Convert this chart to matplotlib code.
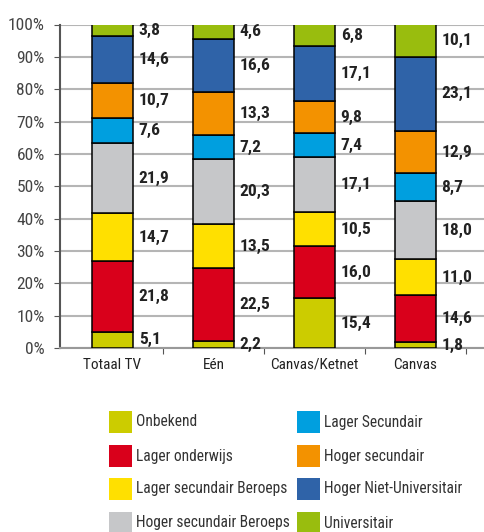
import matplotlib
matplotlib.use("Agg")
import matplotlib.pyplot as plt
from matplotlib.patches import Rectangle
import numpy as np

categories = ["Totaal TV", "Eén", "Canvas/Ketnet", "Canvas"]
series_names = ["Onbekend", "Lager onderwijs", "Lager secundair Beroeps",
                "Hoger secundair Beroeps", "Lager Secundair", "Hoger secundair",
                "Hoger Niet-Universitair", "Universitair"]
onbekend = [5.1, 2.2, 15.4, 1.8]
lager_onderwijs = [21.8, 22.5, 16.0, 14.6]
lager_sec_beroeps = [14.7, 13.5, 10.5, 11.0]
hoger_sec_beroeps = [21.9, 20.3, 17.1, 18.0]
lager_secundair = [7.6, 7.2, 7.4, 8.7]
hoger_secundair = [10.7, 13.3, 9.8, 12.9]
hoger_niet_univ = [14.6, 16.6, 17.1, 23.1]
universitair = [3.8, 4.6, 6.8, 10.1]
yticks = [0, 10, 20, 30, 40, 50, 60, 70, 80, 90, 100]

series = [onbekend, lager_onderwijs, lager_sec_beroeps, hoger_sec_beroeps,
          lager_secundair, hoger_secundair, hoger_niet_univ, universitair]
colors = ["#cccc00", "#d9001b", "#ffe000", "#c6c7c9",
          "#009fdf", "#f39200", "#2f63a8", "#99bd0e"]

FAM = ["Roboto Condensed", "DejaVu Sans"]
plt.rcParams['font.family'] = FAM

fig = plt.figure(figsize=(4.85, 5.32), dpi=100)
W, H = 485, 532
ax = fig.add_axes([60 / W, (H - 348) / H, 425 / W, 323.5 / H])

x = np.arange(len(categories))
bw = 0.40
bottom = np.zeros(len(categories))
for vals, col in zip(series, colors):
    v = np.array(vals)
    ax.bar(x, v, bw, bottom=bottom, color=col, edgecolor="black", linewidth=1.1, zorder=3)
    for xi, b, vi in zip(x, bottom, v):
        ax.text(xi + bw / 2 + 0.06, b + vi / 2, f"{vi:.1f}".replace(".", ","),
                ha="left", va="center", fontsize=12.5, fontweight="bold",
                color="#222222", zorder=4)
    bottom += v

ax.set_ylim(0, 100)
ax.set_xlim(-0.52, 3.69)
ax.set_yticks(yticks)
ax.set_yticklabels([f"{t}%" for t in yticks], fontsize=12.5, color="#444444")
ax.yaxis.grid(True, color="#b5b5b5", linewidth=1.5, zorder=0)
ax.set_axisbelow(True)
ax.set_xticks([0.5, 1.5, 2.5, 3.5])
ax.set_xticklabels([])
ax.set_xticks(x, minor=True)
ax.set_xticklabels(categories, minor=True, fontsize=11, color="#222222")
ax.tick_params(axis="x", which="minor", length=0, pad=7)
ax.tick_params(axis="x", which="major", length=4, color="#555555", direction="out")
ax.tick_params(axis="y", length=4, color="#555555", pad=7)
for s in ["top", "right"]:
    ax.spines[s].set_visible(False)
ax.spines["left"].set_color("#555555")
ax.spines["left"].set_linewidth(1.5)
ax.spines["bottom"].set_color("#999999")
ax.spines["bottom"].set_linewidth(1.5)

# legend
col_x = [109, 297]
row_y = [422, 456, 489, 523]
for i, (name, col) in enumerate(zip(series_names, colors)):
    c, r = divmod(i, 4)
    px, py = col_x[c], row_y[r]
    fig.patches.append(Rectangle((px / W, (H - py - 11) / H), 23 / W, 22 / H,
                                 transform=fig.transFigure, facecolor=col,
                                 edgecolor="none"))
    fig.text((px + 27) / W, (H - py) / H, name, ha="left", va="center",
             fontsize=11.2, color="#333333")

fig.savefig("out.png", dpi=100)
